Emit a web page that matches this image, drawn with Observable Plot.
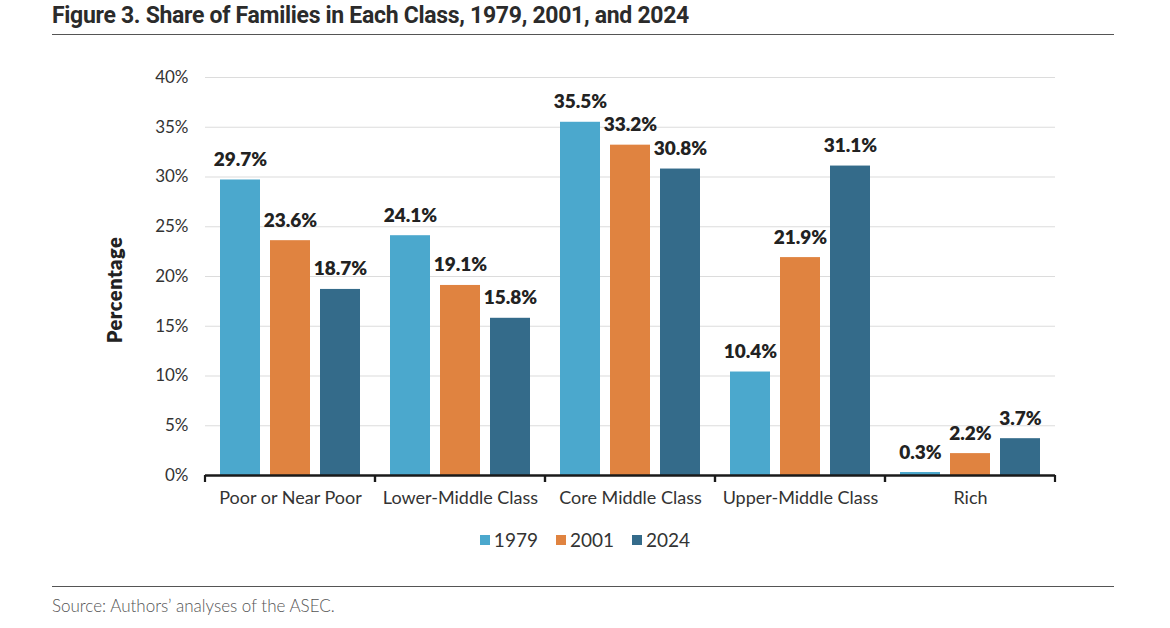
<!DOCTYPE html>
<html>
<head>
<meta charset="utf-8">
<script src="https://cdn.jsdelivr.net/npm/d3@7"></script>
<script src="https://cdn.jsdelivr.net/npm/@observablehq/plot@0.6"></script>
<style>
  html, body { margin: 0; padding: 0; background: #fff; }
  #wrap { position: relative; width: 1170px; height: 628px; overflow: hidden; font-family: Lato, "Open Sans", sans-serif; }
  #title { position: absolute; left: 52px; top: 2px; font-family: Roboto, sans-serif; font-weight: 700; font-size: 23px; color: #2b2b2b; letter-spacing: -0.3px; white-space: nowrap; }
  .hr { position: absolute; left: 52px; width: 1062px; height: 0; border-top: 1.5px solid #555; }
  #chart { position: absolute; left: 0; top: 50px; }
  #legend { position: absolute; top: 528px; left: 0; width: 1170px; display: flex; justify-content: center; gap: 18px; font-size: 19px; color: #333; }
  #legend span.item { display: flex; align-items: center; }
  #legend span.sw { display: inline-block; width: 10px; height: 10px; margin-right: 4px; }
  #source { position: absolute; left: 52px; top: 595px; font-size: 17px; font-weight: 300; color: #555; letter-spacing: 0px; }
</style>
</head>
<body>
<div id="wrap">
  <div id="title">Figure 3. Share of Families in Each Class, 1979, 2001, and 2024</div>
  <div class="hr" style="top:34px"></div>
  <div id="chart"></div>
  <div id="legend"></div>
  <div class="hr" style="top:586px"></div>
  <div id="source">Source: Authors’ analyses of the ASEC.</div>
</div>
<script>
const categories = ["Poor or Near Poor", "Lower-Middle Class", "Core Middle Class", "Upper-Middle Class", "Rich"];
const years = ["1979", "2001", "2024"];
const colors = ["#4BA8CD", "#E08340", "#346B8A"];
const values1979 = [29.7, 24.1, 35.5, 10.4, 0.3];
const values2001 = [23.6, 19.1, 33.2, 21.9, 2.2];
const values2024 = [18.7, 15.8, 30.8, 31.1, 3.7];
const yTicks = [0, 5, 10, 15, 20, 25, 30, 35, 40];

const series = [values1979, values2001, values2024];
const data = [];
categories.forEach((c, i) => {
  years.forEach((y, j) => data.push({category: c, year: y, value: series[j][i]}));
});

// boundary ticks on the x axis at facet edges
function edgeTicks(index, scales, values, dimensions, context) {
  const g = d3.create("svg:g");
  let x0, x1;
  if (scales.x && scales.x.range) {
    const r = scales.x.range();
    x0 = Math.min(...r); x1 = Math.max(...r);
  } else {
    x0 = dimensions.marginLeft; x1 = dimensions.width - dimensions.marginRight;
  }
  const y0 = scales.y(0);
  for (const x of [x0, x1]) {
    g.append("line").attr("x1", x).attr("x2", x).attr("y1", y0).attr("y2", y0 + 7)
      .attr("stroke", "#1a1a1a").attr("stroke-width", 2.2);
  }
  return g.node();
}

const chart = Plot.plot({
  width: 1170,
  height: 470,
  marginLeft: 203,
  marginRight: 114,
  marginTop: 27,
  marginBottom: 45,
  style: {fontFamily: "Lato, 'Open Sans', sans-serif", fontSize: "17px", color: "#333", background: "#fff"},
  fx: {domain: categories, padding: 0, label: null},
  x: {domain: years, paddingInner: 0.2, paddingOuter: 0.3, axis: null},
  y: {domain: [0, 40], ticks: yTicks, label: null},
  color: {domain: years, range: colors},
  marks: [
    Plot.gridY(yTicks, {stroke: "#dcdcdc", strokeOpacity: 1, strokeWidth: 1.2}),
    Plot.axisY(yTicks, {tickSize: 0, tickPadding: 17, tickFormat: d => d + "%", fontSize: 17, label: null}),
    Plot.axisFx({anchor: "bottom", tickSize: 0, tickPadding: 16, fontSize: 18, label: null}),
    Plot.barY(data, {fx: "category", x: "year", y: "value", fill: "year"}),
    Plot.text(data, {fx: "category", x: "year", y: "value", text: d => d.value.toFixed(1) + "%",
      lineAnchor: "bottom", dy: -14, fontWeight: 800, fontSize: 19, fill: "#222"}),
    Plot.ruleY([0], {stroke: "#1a1a1a", strokeWidth: 2.5}),
    edgeTicks
  ]
});
document.getElementById("chart").appendChild(chart);

// y axis title
const svg = d3.select(chart);
svg.append("text")
  .attr("transform", "translate(117,240) rotate(-90)")
  .attr("text-anchor", "middle")
  .attr("dominant-baseline", "middle")
  .style("font-family", "Lato, 'Open Sans', sans-serif")
  .style("font-weight", 800)
  .style("font-size", "20px")
  .style("letter-spacing", "0.5px")
  .attr("fill", "#222")
  .text("Percentage");

const legend = d3.select("#legend");
years.forEach((y, i) => {
  const item = legend.append("span").attr("class", "item");
  item.append("span").attr("class", "sw").style("background", colors[i]);
  item.append("span").text(y);
});
</script>
</body>
</html>
